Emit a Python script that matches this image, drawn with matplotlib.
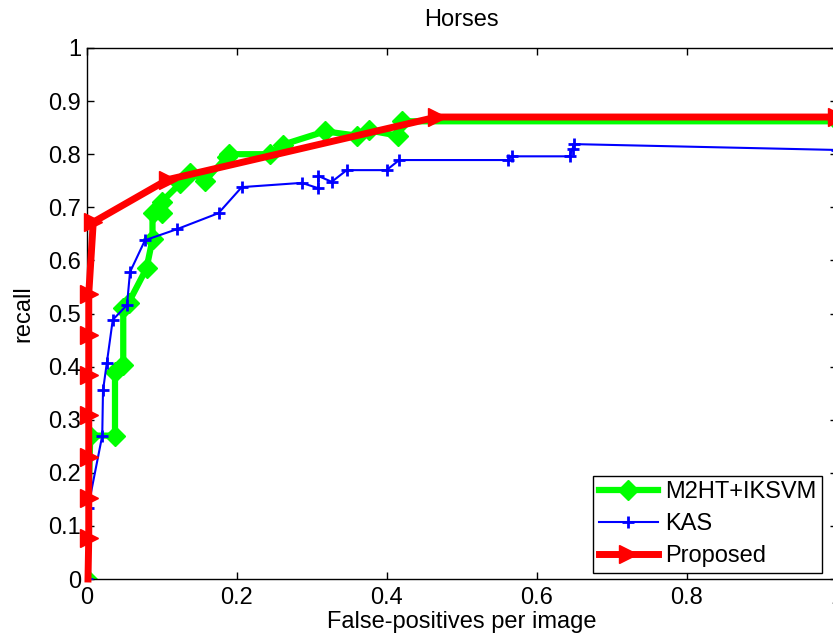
import matplotlib
matplotlib.use("Agg")
import matplotlib.pyplot as plt

plt.rcParams["font.family"] = ["Liberation Sans", "DejaVu Sans"]

# M2HT+IKSVM
m2ht_x = [0, 0.005, 0.038, 0.038, 0.049, 0.049, 0.056, 0.08, 0.088, 0.088, 0.1, 0.1,
          0.125, 0.138, 0.158, 0.187, 0.19, 0.245, 0.262, 0.318, 0.36, 0.376, 0.415,
          0.42, 1.0]
m2ht_y = [0, 0.27, 0.27, 0.39, 0.403, 0.51, 0.52, 0.585, 0.64, 0.69, 0.69, 0.71,
          0.745, 0.765, 0.75, 0.795, 0.8, 0.8, 0.818, 0.843, 0.835, 0.845, 0.835,
          0.862, 0.862]

# KAS
kas_x = [0, 0.002, 0.021, 0.022, 0.027, 0.035, 0.054, 0.058, 0.078, 0.121, 0.176,
         0.207, 0.287, 0.309, 0.309, 0.327, 0.347, 0.4, 0.417, 0.562, 0.567, 0.644,
         0.648, 0.65, 1.0]
kas_y = [0, 0.134, 0.27, 0.355, 0.406, 0.488, 0.516, 0.578, 0.638, 0.659, 0.689,
         0.738, 0.746, 0.736, 0.759, 0.748, 0.77, 0.77, 0.789, 0.789, 0.796, 0.796,
         0.81, 0.819, 0.808]

# Proposed
prop_x = [0.002, 0.003, 0.003, 0.003, 0.003, 0.003, 0.003, 0.003, 0.009, 0.108,
          0.467, 1.0]
prop_y = [0, 0.077, 0.152, 0.23, 0.309, 0.385, 0.46, 0.537, 0.672, 0.752, 0.87, 0.87]

xticks = [0, 0.2, 0.4, 0.6, 0.8, 1]
yticks = [0, 0.1, 0.2, 0.3, 0.4, 0.5, 0.6, 0.7, 0.8, 0.9, 1]

FS = 17


def fmt(v):
    return "%g" % v


fig = plt.figure(figsize=(8.33, 6.34), dpi=100)
ax = fig.add_axes([86.5 / 833, 55 / 634, 750 / 833, 531 / 634])

ax.plot(m2ht_x, m2ht_y, color="#00ff00", linewidth=4.5, marker="D",
        markersize=10, label="M2HT+IKSVM", zorder=2)
ax.plot(kas_x, kas_y, color="#0000ff", linewidth=1.5, marker="+",
        markersize=8, markeredgewidth=2, label="KAS", zorder=3)
ax.plot(prop_x, prop_y, color="#ff0000", linewidth=5, marker=">",
        markersize=13, markevery=list(range(1, len(prop_x))),
        label="Proposed", zorder=4, clip_on=False)

ax.set_xlim(0, 1)
ax.set_ylim(0, 1)
ax.set_xticks(xticks)
ax.set_xticklabels([fmt(v) for v in xticks])
ax.set_yticks(yticks)
ax.set_yticklabels([fmt(v) for v in yticks])
ax.tick_params(direction="in", length=5, width=1, top=True, right=True,
               labelsize=FS)
ax.tick_params(axis="x", pad=6)
ax.tick_params(axis="y", pad=4)
for s in ax.spines.values():
    s.set_linewidth(1)

ax.set_title("Horses", fontsize=FS, pad=16)
ax.set_xlabel("False-positives per image", fontsize=FS, labelpad=1)
ax.set_ylabel("recall", fontsize=FS)
ax.yaxis.set_label_coords(-0.07, 0.5)

leg = ax.legend(loc="lower right", bbox_to_anchor=(0.981, 0.011),
                borderaxespad=0, fontsize=FS, fancybox=False, edgecolor="black",
                framealpha=1, numpoints=1, handlelength=2.5, labelspacing=0.42,
                handletextpad=0.3, borderpad=0.25)
leg.get_frame().set_linewidth(1)

fig.savefig("out.png", dpi=100)
